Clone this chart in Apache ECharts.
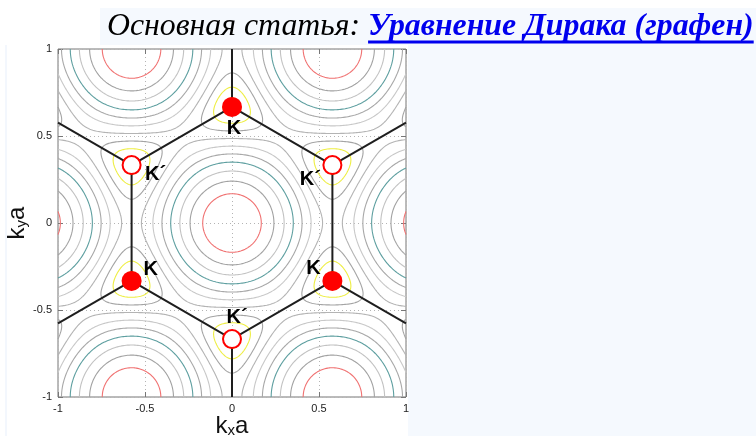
<!DOCTYPE html>
<html>
<head>
<meta charset="utf-8">
<script src="https://cdn.jsdelivr.net/npm/echarts@6/dist/echarts.min.js"></script>
<style>
  html, body { margin: 0; padding: 0; background: #ffffff; }
  #main { width: 756px; height: 436px; }
</style>
</head>
<body>
<div id="main"></div>
<script>
// Axis ticks (k·a, both axes)
const xTicks = [-1, -0.5, 0, 0.5, 1];
const yTicks = [-1, -0.5, 0, 0.5, 1];

// Energy levels |E|/t of the drawn iso-energy contours and their colours
const contourLevels = [0.273, 0.545, 0.818, 1.091, 1.364, 1.636, 1.909, 2.182, 2.455, 2.727];
const contourColors = ['#d8c800', '#eeee44', '#a4a4a4', '#b4b4b4', '#c8c8c8', '#a8a8a8', '#5e9fa0', '#c2c2c2', '#a2a2a2', '#f07272'];

// Dirac points
const kPoints = [[0, 0.667], [-0.577, -0.333], [0.577, -0.333]];
const kPrimePoints = [[-0.577, 0.333], [0.577, 0.333], [0, -0.667]];
const kLabel = 'K';
const kPrimeLabel = 'K´';

// First Brillouin zone (hexagon) and the edges of neighbouring zones
const zoneHexagon = [[0, 0.667], [0.577, 0.333], [0.577, -0.333], [0, -0.667], [-0.577, -0.333], [-0.577, 0.333], [0, 0.667]];
const zoneSpokes = [
  [[0, 0.667], [0, 1]],
  [[0.577, 0.333], [1, 0.577]],
  [[0.577, -0.333], [1, -0.577]],
  [[0, -0.667], [0, -1]],
  [[-0.577, -0.333], [-1, -0.577]],
  [[-0.577, 0.333], [-1, 0.577]]
];

// Nearest-neighbour tight-binding band of graphene, |E(k)|/t
function bandEnergy(kx, ky) {
  const p = 2 * Math.PI;
  const s = 3
    + 2 * Math.cos(p * (Math.sqrt(3) / 2 * kx - ky / 2))
    + 2 * Math.cos(p * ky)
    + 2 * Math.cos(p * (Math.sqrt(3) / 2 * kx + ky / 2));
  return Math.sqrt(Math.max(s, 0));
}

// Marching squares on a regular grid, joined into polylines
const N = 240;
const x0 = -1, x1 = 1;
const step = (x1 - x0) / N;
const field = new Float64Array((N + 1) * (N + 1));
for (let j = 0; j <= N; j++) {
  for (let i = 0; i <= N; i++) {
    field[j * (N + 1) + i] = bandEnergy(x0 + i * step, x0 + j * step);
  }
}
function f(i, j) { return field[j * (N + 1) + i]; }
const H = N * (N + 1);
function hId(i, j) { return j * N + i; }
function vId(i, j) { return H + i * N + j; }

function contourPaths(level) {
  const adj = new Map();
  function link(a, b) {
    if (!adj.has(a)) adj.set(a, []);
    if (!adj.has(b)) adj.set(b, []);
    adj.get(a).push(b);
    adj.get(b).push(a);
  }
  function pointOf(id) {
    if (id < H) {
      const j = Math.floor(id / N), i = id % N;
      const a = f(i, j), b = f(i + 1, j);
      const t = (level - a) / (b - a);
      return [x0 + (i + t) * step, x0 + j * step];
    } else {
      const k = id - H;
      const i = Math.floor(k / N), j = k % N;
      const a = f(i, j), b = f(i, j + 1);
      const t = (level - a) / (b - a);
      return [x0 + i * step, x0 + (j + t) * step];
    }
  }
  for (let j = 0; j < N; j++) {
    for (let i = 0; i < N; i++) {
      const a = f(i, j), b = f(i + 1, j), c = f(i + 1, j + 1), d = f(i, j + 1);
      const code = (a > level ? 1 : 0) | (b > level ? 2 : 0) | (c > level ? 4 : 0) | (d > level ? 8 : 0);
      if (code === 0 || code === 15) continue;
      const bottom = hId(i, j), right = vId(i + 1, j), top = hId(i, j + 1), left = vId(i, j);
      if (code === 5 || code === 10) {
        const center = (a + b + c + d) / 4 > level;
        if ((code === 5) === center) { link(bottom, right); link(top, left); }
        else { link(left, bottom); link(right, top); }
        continue;
      }
      const cut = [];
      if ((a > level) !== (b > level)) cut.push(bottom);
      if ((b > level) !== (c > level)) cut.push(right);
      if ((c > level) !== (d > level)) cut.push(top);
      if ((d > level) !== (a > level)) cut.push(left);
      if (cut.length === 2) link(cut[0], cut[1]);
    }
  }
  const seen = new Set();
  const paths = [];
  function walk(start) {
    const ids = [start];
    seen.add(start);
    let prev = -1, cur = start;
    while (true) {
      const nb = adj.get(cur).filter(n => n !== prev && !seen.has(n));
      if (!nb.length) {
        // close loops
        if (adj.get(cur).includes(start) && ids.length > 2) ids.push(start);
        break;
      }
      prev = cur; cur = nb[0];
      seen.add(cur); ids.push(cur);
    }
    paths.push(ids.map(pointOf));
  }
  for (const [id, list] of adj) if (list.length === 1 && !seen.has(id)) walk(id);
  for (const [id] of adj) if (!seen.has(id)) walk(id);
  return paths;
}

const contourSeries = contourLevels.map((lv, idx) => ({
  type: 'lines',
  coordinateSystem: 'cartesian2d',
  polyline: true,
  silent: true,
  z: 2,
  lineStyle: { color: contourColors[idx], width: 1.1, opacity: 1 },
  data: contourPaths(lv).map(p => ({ coords: p }))
}));

const zoneSeries = {
  type: 'lines',
  coordinateSystem: 'cartesian2d',
  polyline: true,
  silent: true,
  z: 3,
  lineStyle: { color: '#1e1e1e', width: 2, opacity: 1 },
  data: [{ coords: zoneHexagon }].concat(zoneSpokes.map(s => ({ coords: s })))
};

const labelFont = { fontFamily: 'Liberation Sans, Arial, sans-serif', fontWeight: 'bold', fontSize: 20, color: '#000' };
const kOffsets = [[2, 22], [19, -11], [-19, -12]];
const kPrimeOffsets = [[24, 9], [-22, 14], [5, -22]];

const kSeries = {
  type: 'scatter', z: 5, silent: true,
  symbol: 'circle', symbolSize: 20,
  itemStyle: { color: '#ff0000', opacity: 1 },
  label: Object.assign({ show: true, position: 'inside', formatter: kLabel }, labelFont),
  data: kPoints.map((p, i) => ({ value: p, label: { offset: kOffsets[i] } }))
};
const kPrimeSeries = {
  type: 'scatter', z: 5, silent: true,
  symbol: 'circle', symbolSize: 18,
  itemStyle: { color: '#ffffff', borderColor: '#ff0000', borderWidth: 2, opacity: 1 },
  label: Object.assign({ show: true, position: 'inside', formatter: kPrimeLabel }, labelFont),
  data: kPrimePoints.map((p, i) => ({ value: p, label: { offset: kPrimeOffsets[i] } }))
};

// Heading text layout
const headFont = 31.8;
const headLeft = 107;
const measure = document.createElement('canvas').getContext('2d');
measure.font = 'italic ' + headFont + 'px "Liberation Serif"';
const leadText = 'Основная статья: ';
const linkText = 'Уравнение Дирака (графен)';
const leadW = measure.measureText(leadText).width;
measure.font = 'italic bold ' + headFont + 'px "Liberation Serif"';
const linkW = measure.measureText(linkText).width;

const axisLabelStyle = { fontFamily: 'Liberation Sans, Arial, sans-serif', fontSize: 11, color: '#222' };
const tickFmt = v => String(v);
const nameRich = {
  k: { fontFamily: 'Liberation Sans, Arial', fontSize: 24, color: '#111', lineHeight: 24 },
  s: { fontFamily: 'Liberation Sans, Arial', fontSize: 15, color: '#111', lineHeight: 24, padding: [9, 0, 0, 0] }
};
const hiddenAxisLine = { show: false, onZero: false };

const chart = echarts.init(document.getElementById('main'), null, { renderer: 'canvas' });
chart.setOption({
  animation: false,
  backgroundColor: '#ffffff',
  graphic: [
    { type: 'rect', z: -10, shape: { x: 100, y: 8, width: 656, height: 37 }, style: { fill: '#f5f9fe' } },
    { type: 'rect', z: -10, shape: { x: 408, y: 45, width: 348, height: 391 }, style: { fill: '#f5f9fe' } },
    { type: 'rect', z: -10, shape: { x: 5, y: 45, width: 2, height: 391 }, style: { fill: '#f3f7fd' } },
    { type: 'text', z: 10, x: headLeft, y: 27,
      style: { text: leadText, font: 'italic ' + headFont + 'px "Liberation Serif"', fill: '#000', verticalAlign: 'middle' } },
    { type: 'text', z: 10, x: headLeft + leadW, y: 27,
      style: { text: linkText, font: 'italic bold ' + headFont + 'px "Liberation Serif"', fill: '#0000ee', verticalAlign: 'middle' } },
    { type: 'rect', z: 10, shape: { x: headLeft + leadW, y: 40.5, width: linkW, height: 3 }, style: { fill: '#0000ee' } }
  ],
  grid: {
    left: 58, right: 350, top: 49, bottom: 39,
    outerBoundsMode: 'none', containLabel: false,
    show: true, borderColor: '#777', borderWidth: 1, backgroundColor: '#ffffff'
  },
  xAxis: [
    {
      type: 'value', min: xTicks[0], max: xTicks[xTicks.length - 1], interval: 0.5,
      position: 'bottom',
      axisLine: hiddenAxisLine,
      axisTick: { show: true, inside: true, length: 5, lineStyle: { color: '#777' } },
      axisLabel: Object.assign({ margin: 6, formatter: tickFmt }, axisLabelStyle),
      splitLine: { show: true, lineStyle: { color: '#b4b4b4', type: [1, 3], width: 1 } },
      name: '{k|k}{s|x}{k|a}', nameLocation: 'middle', nameGap: 17, nameMoveOverlap: false,
      nameTextStyle: { rich: nameRich, verticalAlign: 'top' }
    },
    {
      type: 'value', min: -1, max: 1, interval: 0.5, position: 'top',
      axisLine: hiddenAxisLine, axisLabel: { show: false }, splitLine: { show: false },
      axisTick: { show: true, inside: true, length: 5, lineStyle: { color: '#777' } }
    }
  ],
  yAxis: [
    {
      type: 'value', min: yTicks[0], max: yTicks[yTicks.length - 1], interval: 0.5,
      position: 'left',
      axisLine: hiddenAxisLine,
      axisTick: { show: true, inside: true, length: 5, lineStyle: { color: '#777' } },
      axisLabel: Object.assign({ margin: 6, formatter: tickFmt }, axisLabelStyle),
      splitLine: { show: true, lineStyle: { color: '#b4b4b4', type: [1, 3], width: 1 } },
      name: '{k|k}{s|y}{k|a}', nameLocation: 'middle', nameGap: 28, nameRotate: 90,
      nameTextStyle: { rich: nameRich }
    },
    {
      type: 'value', min: -1, max: 1, interval: 0.5, position: 'right',
      axisLine: hiddenAxisLine, axisLabel: { show: false }, splitLine: { show: false },
      axisTick: { show: true, inside: true, length: 5, lineStyle: { color: '#777' } }
    }
  ],
  series: contourSeries.concat([zoneSeries, kSeries, kPrimeSeries])
});
</script>
</body>
</html>
